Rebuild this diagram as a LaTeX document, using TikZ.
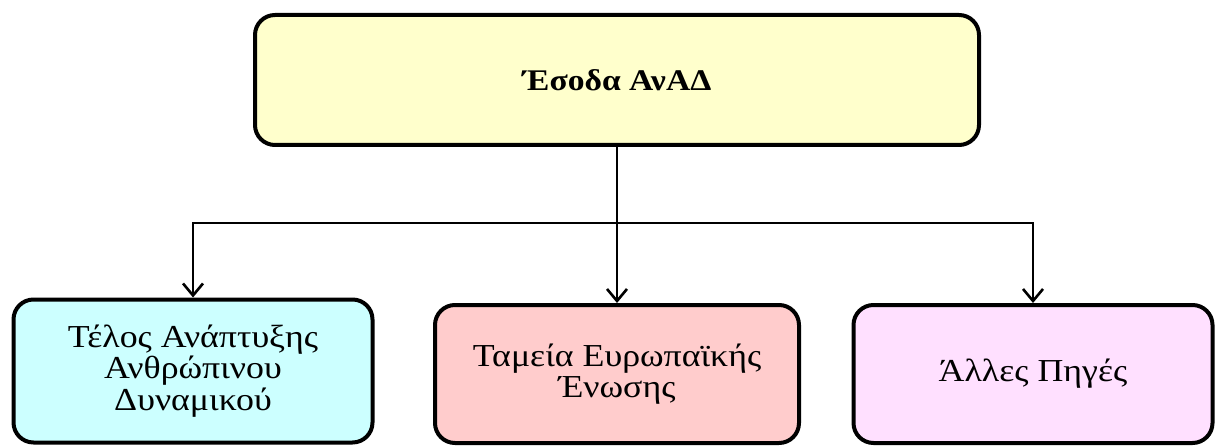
\documentclass[tikz,border=0pt]{standalone}
\usepackage{fontspec}
\setmainfont{Liberation Serif}[FakeStretch=1.12]
\usepackage{xcolor}
\usetikzlibrary{arrows.meta}

\definecolor{topfill}{HTML}{FFFFCC}
\definecolor{feefill}{HTML}{CCFFFF}
\definecolor{fundfill}{HTML}{FFCCCC}
\definecolor{otherfill}{HTML}{FFE0FF}

\begin{document}
\begin{tikzpicture}[x=1pt, y=-1pt, line cap=round,
  >={Straight Barb[length=12pt, width=20pt, line width=2.6pt]},
  srcbox/.style={draw, line width=4pt, rounded corners=20pt, align=center,
    inner sep=0pt, font=\fontsize{32}{31.5}\selectfont},
  link/.style={->, line width=2.6pt}]

\useasboundingbox (0,0) rectangle (1215,446);

% --- layout helpers ---
\def\Y{371}     % bottom row y
\def\S{223}     % split line y

% --- top box ---
\node[srcbox, fill=topfill, minimum width=724pt, minimum height=130pt,
  font=\bfseries\fontsize{30}{31}\selectfont] (income) at (617,80) {Έσοδα ΑνΑΔ};

% --- bottom row ---
\node[srcbox, fill=feefill, minimum width=359pt, minimum height=143pt] (fee) at (193,\Y)
  {Τέλος Ανάπτυξης\\Ανθρώπινου\\Δυναμικού};
\node[srcbox, fill=fundfill, minimum width=364pt, minimum height=138pt] (fund) at (617,\Y+3)
  {Ταμεία Ευρωπαϊκής\\Ένωσης};
\node[srcbox, fill=otherfill, minimum width=359pt, minimum height=138pt] (other) at (1033,\Y+3)
  {Άλλες Πηγές};

% --- connectors ---
\coordinate (split) at (617,\S);
\draw[link] (income) -- (fund);
\draw[link] (split) -| (fee);
\draw[link] (split) -| (other);

\end{tikzpicture}
\end{document}
